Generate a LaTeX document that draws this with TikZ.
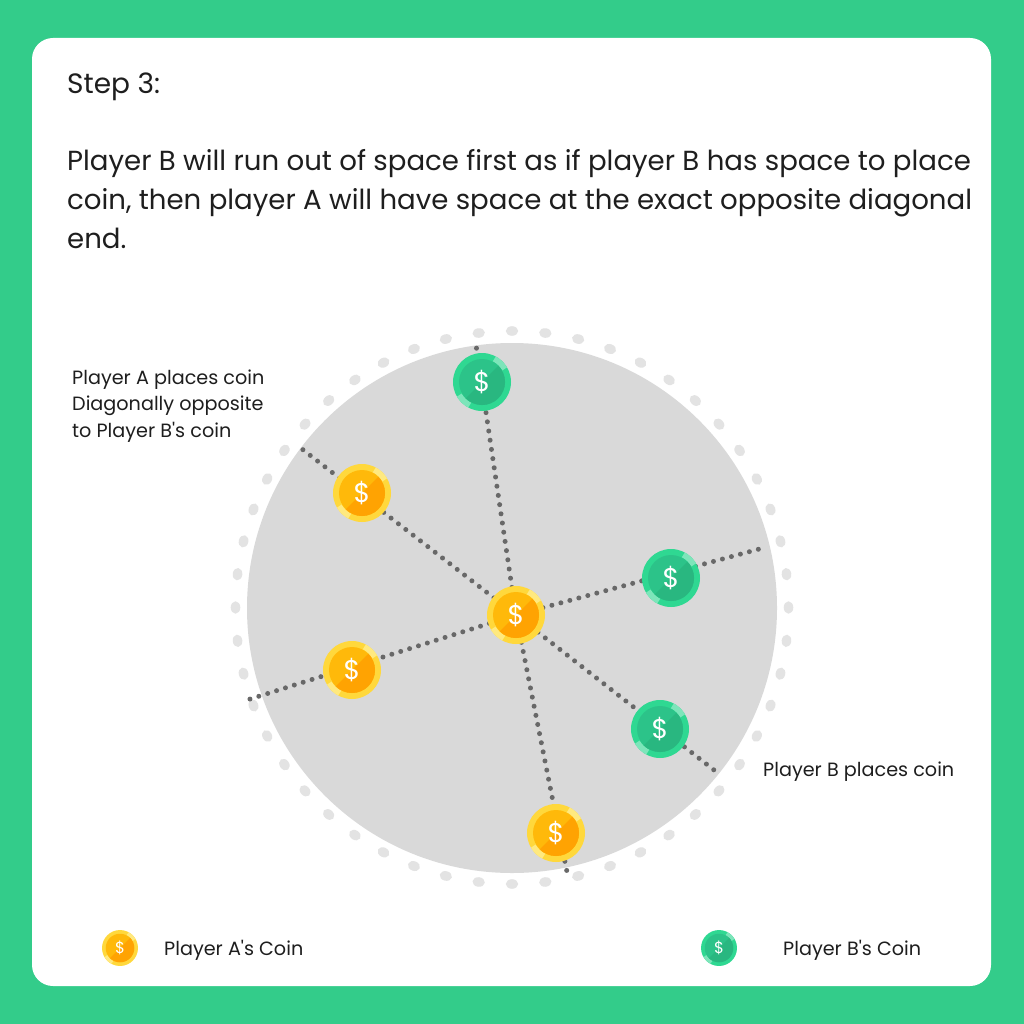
\documentclass[tikz,border=0pt]{standalone}
\usepackage{fontspec}
\setmainfont{Poppins}
\definecolor{frameGreen}{HTML}{33CC8A}
\definecolor{discGrey}{HTML}{D9D9D9}
\definecolor{ringGrey}{HTML}{E3E3E3}
\definecolor{dotGrey}{HTML}{686868}
\definecolor{inkBlack}{HTML}{1E1E1E}
\definecolor{aRim}{HTML}{FFD83C}
\definecolor{aLight}{HTML}{FFB90A}
\definecolor{aDark}{HTML}{FFA302}
\definecolor{aShine}{HTML}{FFE97F}
\definecolor{bRim}{HTML}{2FD892}
\definecolor{bLight}{HTML}{2CC389}
\definecolor{bDark}{HTML}{29B780}
\definecolor{bShine}{HTML}{7DE5BA}
% A coin: name, position, scale, rim, light half, dark half, highlight, size of the sign
\newcommand{\placecoin}[8]{%
  \node[circle,inner sep=0pt,minimum size=#3*58pt,fill=#4] (#1) at #2 {};
  \begin{scope}[shift={(#1.center)},scale=#3]
    \draw[#7,line width=#3*5.6pt] (-62:26.2) arc (-62:-30:26.2);
    \draw[#7,line width=#3*5.6pt] (118:26.2) arc (118:150:26.2);
    \fill[#5] (0,0) circle (23);
    \begin{scope}
      \clip (0,0) circle (23);
      \fill[#6] (-30,30) -- (30,-30) -- (40,40) -- cycle;
    \end{scope}
  \end{scope}
  \node[inner sep=0pt,text=white,font=\fontsize{#8}{#8}\selectfont] (#1sign) at (#1.center) {\$};}
\newcommand{\acoin}[4]{\placecoin{#1}{#2}{#3}{aRim}{aLight}{aDark}{aShine}{#4}}
\newcommand{\bcoin}[4]{\placecoin{#1}{#2}{#3}{bRim}{bLight}{bDark}{bShine}{#4}}
\tikzset{
  x=1pt,y=-1pt,
  heading/.style={anchor=base west,inner sep=0pt,text=inkBlack,font=\fontsize{28}{28}\selectfont},
  bodytext/.style={anchor=north west,inner sep=0pt,align=left,text=inkBlack,font=\fontsize{27.6}{39}\selectfont},
  notetext/.style={inner sep=0pt,align=left,text=inkBlack,font=\fontsize{19.2}{26.5}\selectfont},
  spoke/.style={dotGrey,line width=5pt,line cap=round,dash pattern=on 0pt off 9.3pt},
}
\begin{document}
\begin{tikzpicture}
  \useasboundingbox (0,0) rectangle (1024,1024);
  \fill[frameGreen] (0,0) rectangle (1024,1024);
  \fill[white,rounded corners=21pt] (32,38) rectangle (991,986);

  % Board and the row of spaces round its edge
  \fill[discGrey] (512,608) circle (265);
  \foreach \a in {0,...,51}
    \fill[ringGrey,shift={(512,607.5)},rotate=6.923*\a] (276.5,0) ellipse (4.8 and 6.2);

  % Free ends of the diagonals
  \coordinate (endN) at (476,345);
  \coordinate (endNW) at (302,449);
  \coordinate (endE) at (763,548);
  \coordinate (endW) at (247,700);
  \coordinate (endSE) at (714,770);
  \coordinate (endS) at (567,872);
  \coordinate (hub) at (516,615);

  \foreach \e in {endN,endNW,endE,endW,endSE,endS}
    \draw[spoke] (hub) -- (\e);

  % Coins on the board
  \acoin{centre}{(hub)}{1}{27}
  \bcoin{coinBa}{(482,382)}{1}{27}
  \acoin{coinAa}{(362,493)}{1}{27}
  \bcoin{coinBb}{(671,578)}{1}{27}
  \acoin{coinAb}{(352,670)}{1}{27}
  \bcoin{coinBc}{(660,729)}{1}{27}
  \acoin{coinAc}{(556,833)}{1}{27}

  % Title and explanation
  \node[heading] (title) at (67,94) {Step 3:};
  \node[bodytext] (body) at (67,149) {Player B will run out of space first as if player B has space to place\\coin, then player A will have space at the exact opposite diagonal\\end.};

  % Notes beside the board
  \node[notetext,anchor=north west] (noteA) at (72,369.5) {Player A places coin\\Diagonally opposite\\to Player B\textquotesingle s coin};
  \node[notetext,anchor=base west] (noteB) at (763,776.5) {Player B places coin};

  % Key
  \acoin{keyA}{(120,948)}{0.62}{16}
  \node[notetext,anchor=base west] (keyAtext) at (164,955) {Player A\textquotesingle s Coin};
  \bcoin{keyB}{(719,948)}{0.62}{16}
  \node[notetext,anchor=base west] (keyBtext) at (783,955) {Player B\textquotesingle s Coin};
\end{tikzpicture}
\end{document}
